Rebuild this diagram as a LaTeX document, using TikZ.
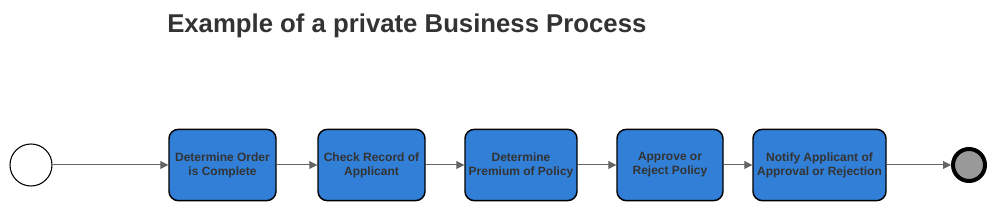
\documentclass[tikz,border=0pt]{standalone}
\usepackage{fontspec}
\setmainfont{Liberation Sans}
\usetikzlibrary{arrows.meta}
\definecolor{taskblue}{RGB}{49,127,214}
\definecolor{txtgray}{RGB}{51,51,51}
\definecolor{flowgray}{RGB}{100,100,100}
\definecolor{endgray}{RGB}{153,153,153}
\begin{document}
\begin{tikzpicture}[x=0.75pt, y=-0.75pt,
	task/.style={draw=black, line width=1.1pt, fill=taskblue, rounded corners=7pt, minimum height=53.5pt, inner sep=0pt, align=center, text=txtgray, font=\bfseries\fontsize{9}{10.5}\selectfont},
	flow/.style={-{Triangle[length=6pt, width=6pt]}, draw=flowgray, fill=flowgray, line width=0.75pt}]
	\useasboundingbox (0,0) rectangle (1000,213);
	\node[text=txtgray, font=\bfseries\fontsize{19.3}{23}\selectfont, anchor=west, inner sep=0pt] (title) at (167,26) {Example of a private Business Process};
	\node[circle, draw=black, line width=0.8pt, minimum size=31.5pt, inner sep=0pt] (start) at (31,165) {};
	\node[task, minimum width=80.25pt] (order) at (222.5,165) {Determine Order\\is Complete};
	\node[task, minimum width=80.25pt] (record) at (371.5,165) {Check Record of\\Applicant};
	\node[task, minimum width=84pt] (premium) at (521,165) {Determine\\Premium of Policy};
	\node[task, minimum width=79.5pt] (approve) at (670,165) {Approve or\\Reject Policy};
	\node[task, minimum width=99.75pt] (notify) at (819.5,165) {Notify Applicant of\\Approval or Rejection};
	\node[circle, draw=black, line width=3pt, fill=endgray, minimum size=24pt, inner sep=0pt] (finish) at (969,165) {};
	\draw[flow] (start) -- (order);
	\draw[flow] (order) -- (record);
	\draw[flow] (record) -- (premium);
	\draw[flow] (premium) -- (approve);
	\draw[flow] (approve) -- (notify);
	\draw[flow] (notify) -- (finish);
\end{tikzpicture}
\end{document}
